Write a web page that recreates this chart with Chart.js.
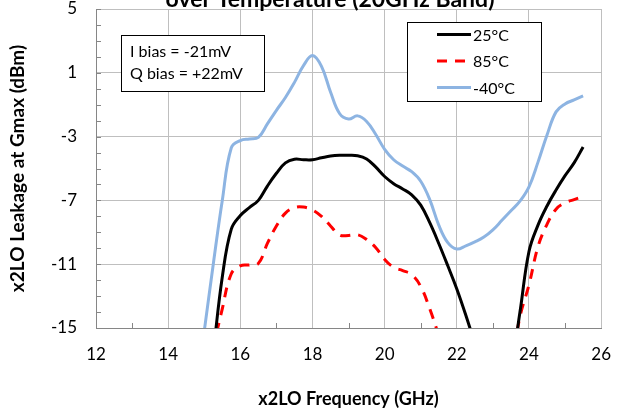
<!DOCTYPE html>
<html>
<head>
<meta charset="utf-8">
<script src="https://cdn.jsdelivr.net/npm/chart.js@4.4.1/dist/chart.umd.min.js"></script>
<style>
  html, body { margin: 0; padding: 0; background: #fff; }
  #wrap { width: 627px; height: 413px; overflow: hidden; }
</style>
</head>
<body>
<div id="wrap"><canvas id="leakChart" width="627" height="413"></canvas></div>
<script>
//DATA
const freqs = [15.0, 15.25, 15.5, 15.75, 16.0, 16.25, 16.5, 16.75, 17.0, 17.25, 17.5, 17.75,
    18.0, 18.25, 18.5, 18.75, 19.0, 19.25, 19.5, 19.75, 20.0, 20.25, 20.5, 20.75, 21.0,
    21.25, 21.5, 21.75, 22.0, 22.25, 22.5, 22.75, 23.0, 23.25, 23.5, 23.75, 24.0, 24.25,
    24.5, 24.75, 25.0, 25.25, 25.5]

const temp25 = [-21.0, -16.5, -11.8, -8.8, -7.95, -7.45, -7.0, -6.1, -5.3, -4.65, -4.42, -4.45,
    -4.45, -4.33, -4.22, -4.17, -4.17, -4.2, -4.4, -4.9, -5.5, -5.95, -6.28, -6.65, -7.3,
    -8.4, -9.7, -11.1, -12.55, -14.2, -16.0, -18.0, -19.5, -19.0, -17.5, -14.0, -10.2, -8.55,
    -7.35, -6.35, -5.45, -4.65, -3.65]

const temp85 = [-22.0, -16.5, -13.8, -11.6, -11.1, -11.05, -10.95, -9.7, -8.6, -7.8, -7.45, -7.42,
    -7.6, -8.0, -8.6, -9.17, -9.2, -9.15, -9.45, -9.95, -10.7, -11.2, -11.4, -11.65, -12.4,
    -13.8, -15.5, -17.5, -19.0, -20.0, -21.0, -21.0, -20.5, -19.5, -17.5, -14.3, -12.3, -9.9,
    -8.5, -7.55, -7.15, -6.95, -6.75]

const tempM40 = [-15.2, -11.0, -7.0, -3.7, -3.25, -3.15, -3.05, -2.2, -1.35, -0.55, 0.4, 1.45,
    2.08, 1.4, -0.2, -1.55, -1.9, -1.7, -2.05, -2.85, -3.8, -4.45, -4.85, -5.2, -5.8,
    -6.95, -8.55, -9.65, -10.05, -9.85, -9.6, -9.3, -8.85, -8.25, -7.65, -7.05, -6.15, -4.6,
    -2.9, -1.45, -0.95, -0.7, -0.45]

const seriesNames = ["25°C", "85°C", "-40°C"]
const xTicks = [12, 14, 16, 18, 20, 22, 24, 26]
const yTicks = [-15, -11, -7, -3, 1, 5]
const titleText = "over Temperature (20GHz Band)"
const noteLines = ["I bias = -21mV", "Q bias = +22mV"]

const fontName = "Lato, 'Open Sans', sans-serif"
const gridColor = "#bfbfbf"
const axisColor = "#868686"

function toPoints(values) {
    return freqs.map((f, i) => ({ x: f, y: values[i] }))
}

//EXTRA DRAWING (minor ticks, title, note box, legend)
const extras = {
    id: "extras",
    beforeDatasetsDraw(chart) {
        const ctx = chart.ctx
        const area = chart.chartArea
        const xs = chart.scales.x
        const ys = chart.scales.y
        ctx.save()
        ctx.strokeStyle = axisColor
        ctx.lineWidth = 1
        ctx.beginPath()
        for (let v = -15; v <= 5; v++) {
            const py = Math.round(ys.getPixelForValue(v)) + 0.5
            ctx.moveTo(area.left, py)
            ctx.lineTo(area.left + 5, py)
        }
        for (let v = 13; v < 26; v += 2) {
            const px = Math.round(xs.getPixelForValue(v)) + 0.5
            ctx.moveTo(px, area.bottom)
            ctx.lineTo(px, area.bottom - 5)
        }
        ctx.stroke()
        ctx.restore()
    },
    afterDraw(chart) {
        const ctx = chart.ctx
        ctx.save()

        // title (top half is cut off in the original)
        ctx.fillStyle = "#000"
        ctx.font = "bold 23px " + fontName
        ctx.textAlign = "center"
        ctx.textBaseline = "alphabetic"
        ctx.fillText(titleText, 330, 7)

        // bias note
        ctx.fillStyle = "#fff"
        ctx.fillRect(121, 35, 143, 56)
        ctx.strokeStyle = "#000"
        ctx.lineWidth = 1
        ctx.strokeRect(121.5, 35.5, 143, 56)
        ctx.fillStyle = "#000"
        ctx.font = "16px " + fontName
        ctx.textAlign = "left"
        ctx.textBaseline = "middle"
        noteLines.forEach((t, i) => ctx.fillText(t, 130, 52 + i * 21.5))

        // legend
        ctx.fillStyle = "#fff"
        ctx.fillRect(407, 22, 134, 79)
        ctx.strokeRect(407.5, 22.5, 134, 79)
        chart.data.datasets.forEach((ds, i) => {
            const y = 34.5 + i * 26.5
            ctx.strokeStyle = ds.borderColor
            ctx.lineWidth = ds.borderWidth
            ctx.setLineDash(ds.borderDash || [])
            ctx.beginPath()
            ctx.moveTo(437, y)
            ctx.lineTo(471, y)
            ctx.stroke()
            ctx.setLineDash([])
            ctx.fillStyle = "#000"
            ctx.fillText(ds.label, 473, y + 1)
        })
        ctx.restore()
    }
}

//CHART
const chart = new Chart(document.getElementById("leakChart"), {
    type: "line",
    data: {
        datasets: [{
                label: seriesNames[0],
                data: toPoints(temp25),
                borderColor: "#000000",
                borderWidth: 3,
                tension: 0.4,
                pointRadius: 0,
                clip: 0
            },
            {
                label: seriesNames[1],
                data: toPoints(temp85),
                borderColor: "#ff0000",
                borderWidth: 3,
                borderDash: [10, 8],
                tension: 0.4,
                pointRadius: 0,
                clip: 0
            },
            {
                label: seriesNames[2],
                data: toPoints(tempM40),
                borderColor: "#8db4e2",
                borderWidth: 3,
                tension: 0.4,
                pointRadius: 0,
                clip: 0
            }
        ]
    },
    options: {
        responsive: false,
        animation: false,
        devicePixelRatio: 1,
        layout: {
            padding: { left: 0, top: 0, right: 25, bottom: 0 }
        },
        plugins: {
            legend: { display: false },
            tooltip: { enabled: false }
        },
        scales: {
            x: {
                type: "linear",
                min: 12,
                max: 26,
                afterBuildTicks: (axis) => { axis.ticks = xTicks.map(v => ({ value: v })) },
                afterFit: (axis) => { axis.height = 85 },
                grid: { color: gridColor, drawTicks: false },
                border: { color: axisColor },
                ticks: {
                    color: "#000",
                    font: { family: fontName, size: 17 },
                    padding: 16,
                    maxRotation: 0
                },
                title: {
                    display: true,
                    text: "x2LO Frequency (GHz)",
                    color: "#000",
                    font: { family: fontName, size: 18, weight: "bold" },
                    padding: { top: 0, bottom: 3 }
                }
            },
            y: {
                type: "linear",
                min: -15,
                max: 5,
                afterBuildTicks: (axis) => { axis.ticks = yTicks.map(v => ({ value: v })) },
                afterFit: (axis) => {
                    axis.width = 96
                    axis.paddingTop = 9
                    axis.paddingBottom = 0
                },
                grid: { color: gridColor, drawTicks: false },
                border: { color: axisColor },
                ticks: {
                    color: "#000",
                    font: { family: fontName, size: 17 },
                    padding: 19
                },
                title: {
                    display: true,
                    text: "x2LO Leakage at Gmax (dBm)",
                    color: "#000",
                    font: { family: fontName, size: 19, weight: "bold" },
                    padding: { top: 6, bottom: 0 }
                }
            }
        }
    },
    plugins: [extras]
})
</script>
</body>
</html>
